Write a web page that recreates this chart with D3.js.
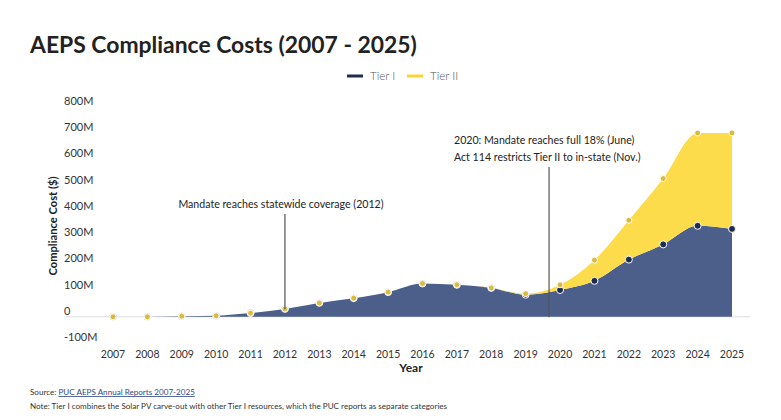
<!DOCTYPE html>
<html>
<head>
<meta charset="utf-8">
<script src="https://cdn.jsdelivr.net/npm/d3@7"></script>
<style>
  body { margin: 0; background: #fff; }
  svg { font-family: Lato, "Open Sans", sans-serif; }
</style>
</head>
<body>
<svg id="chart" width="781" height="420"></svg>
<script>
// values in millions of dollars
var years = [2007, 2008, 2009, 2010, 2011, 2012, 2013, 2014, 2015, 2016,
             2017, 2018, 2019, 2020, 2021, 2022, 2023, 2024, 2025];
var tier1 = [0, 0, 2, 4, 14, 30, 53, 71, 94, 127,
             122, 110, 84, 102, 137, 218, 276, 347, 335];
var tier2 = [0, 0, 0, 0, 0, 0, 0, 0, 0, 0,
             0, 0, 4, 20, 79, 150, 251, 354, 366];
var yTicks = [-100, 0, 100, 200, 300, 400, 500, 600, 700, 800];
var seriesNames = ["Tier I", "Tier II"];
var seriesColors = ["#4b5f8a", "#fddc4b"];
var dotColors = ["#1e2b50", "#dcbb3a"];

var svg = d3.select("#chart");

var rows = years.map(function(y, i) {
  return {year: y, t1: tier1[i], t2: tier2[i]};
});

var x = d3.scalePoint().domain(years).range([113, 732]);
var y = d3.scaleLinear().domain([-100, 800]).range([343, 107]);

// title
svg.append("text")
  .attr("x", 30).attr("y", 53)
  .attr("font-size", 22.9).attr("font-weight", 700)
  .attr("fill", "#222")
  .text("AEPS Compliance Costs (2007 - 2025)");

// legend
var legend = svg.append("g").attr("transform", "translate(347,76)");
var lx = 0;
seriesNames.forEach(function(name, i) {
  legend.append("line")
    .attr("x1", lx).attr("x2", lx + 16)
    .attr("stroke", i == 0 ? "#1e2b50" : "#f5d635")
    .attr("stroke-width", 3);
  legend.append("text")
    .attr("x", lx + 23).attr("y", 4)
    .attr("font-size", 11.5).attr("font-weight", 300)
    .attr("fill", "#555")
    .text(name);
  lx += 60;
});

// zero line
svg.append("line")
  .attr("x1", 66).attr("x2", 750)
  .attr("y1", y(0)).attr("y2", y(0))
  .attr("stroke", "#ddd").attr("stroke-width", 1);

// y tick labels, sitting just above their grid positions
svg.append("g").selectAll("text")
  .data(yTicks).join("text")
    .attr("x", 64)
    .attr("y", function(d) { return y(d) - 2; })
    .attr("font-size", 11)
    .attr("fill", "#333")
    .text(function(d) { return d == 0 ? "0" : d + "M"; });

// x axis labels
svg.append("g").selectAll("text")
  .data(years).join("text")
    .attr("x", function(d) { return x(d); })
    .attr("y", 358)
    .attr("text-anchor", "middle")
    .attr("font-size", 10.5)
    .attr("fill", "#333")
    .text(function(d) { return d; });

svg.append("text")
  .attr("x", 411).attr("y", 372)
  .attr("text-anchor", "middle")
  .attr("font-size", 12).attr("font-weight", 700)
  .attr("fill", "#222")
  .text("Year");

svg.append("text")
  .attr("transform", "translate(57,226) rotate(-90)")
  .attr("text-anchor", "middle")
  .attr("font-size", 11.2).attr("font-weight", 700)
  .attr("fill", "#222")
  .text("Compliance Cost ($)");

// stacked areas
var stack = d3.stack().keys(["t1", "t2"]);
var layers = stack(rows);

var area = d3.area()
  .x(function(d) { return x(d.data.year); })
  .y0(function(d) { return y(d[0]); })
  .y1(function(d) { return y(d[1]); })
  .curve(d3.curveMonotoneX);

svg.append("g").selectAll("path")
  .data(layers).join("path")
    .attr("d", area)
    .attr("fill", function(d, i) { return seriesColors[i]; });

// dots: tier I first, tier II on top
layers.forEach(function(layer, i) {
  svg.append("g").selectAll("circle")
    .data(layer).join("circle")
      .attr("cx", function(d) { return x(d.data.year); })
      .attr("cy", function(d) { return y(d[1]); })
      .attr("r", i == 0 ? 3.5 : 3)
      .attr("fill", dotColors[i])
      .attr("stroke", "#fff")
      .attr("stroke-width", 1);
});

// annotations
function annotate(xPos, yTop, yBottom) {
  svg.append("line")
    .attr("x1", xPos).attr("x2", xPos)
    .attr("y1", yTop).attr("y2", yBottom)
    .attr("stroke", "#555").attr("stroke-width", 1.2);
}
annotate(x(2012), 214, y(30));
svg.append("text")
  .attr("x", 281).attr("y", 208)
  .attr("text-anchor", "middle")
  .attr("font-size", 10.6).attr("fill", "#222")
  .text("Mandate reaches statewide coverage (2012)");

var x2019 = x(2019) + (x(2020) - x(2019)) * 0.68;
annotate(x2019, 167, y(-2));
svg.append("text")
  .attr("x", 454).attr("y", 144)
  .attr("font-size", 10.6).attr("fill", "#222")
  .text("2020: Mandate reaches full 18% (June)");
svg.append("text")
  .attr("x", 454).attr("y", 161)
  .attr("font-size", 10.6).attr("fill", "#222")
  .text("Act 114 restricts Tier II to in-state (Nov.)");

// footer
var src = svg.append("text")
  .attr("x", 30).attr("y", 395)
  .attr("font-size", 8.1).attr("fill", "#333");
src.append("tspan").text("Source: ");
src.append("tspan")
  .attr("fill", "#2f4a86")
  .attr("text-decoration", "underline")
  .text("PUC AEPS Annual Reports 2007-2025");

svg.append("text")
  .attr("x", 30).attr("y", 409)
  .attr("font-size", 8.1).attr("fill", "#333")
  .text("Note: Tier I combines the Solar PV carve-out with other Tier I resources, which the PUC reports as separate categories");
</script>
</body>
</html>
